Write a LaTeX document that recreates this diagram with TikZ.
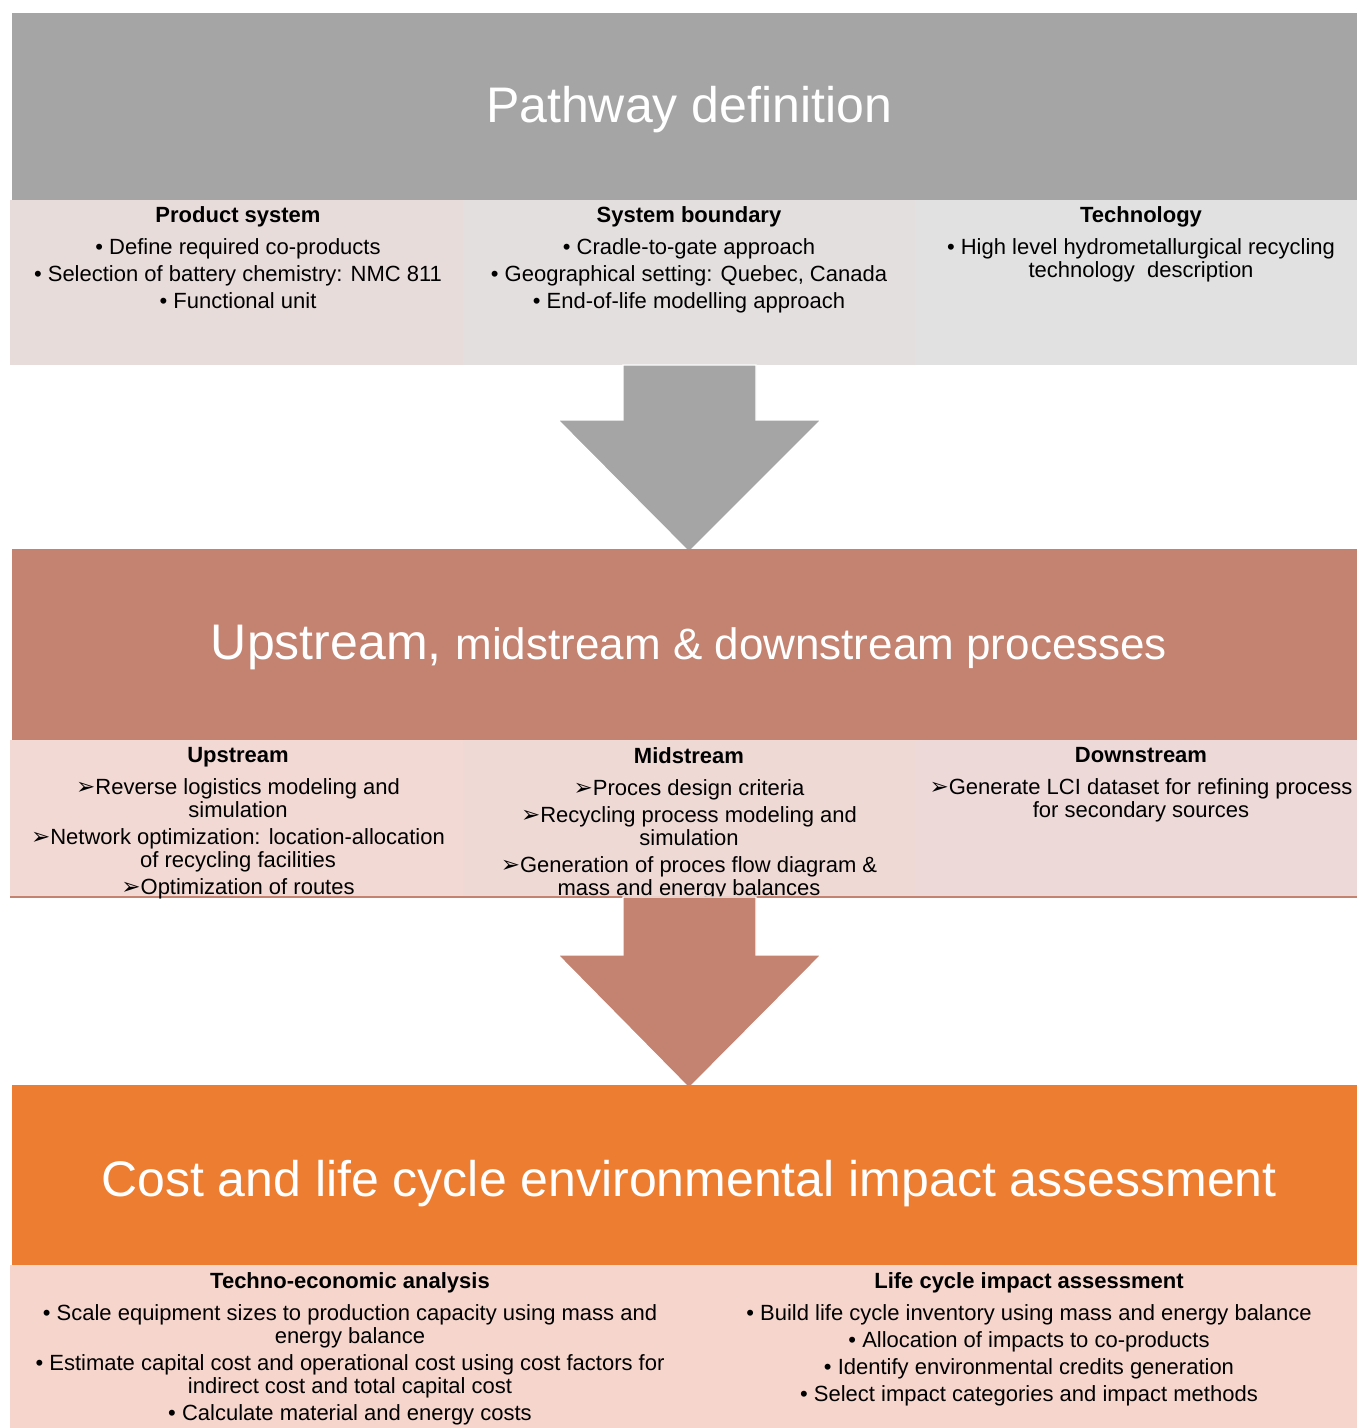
\documentclass[tikz,border=0pt]{standalone}
\usepackage{fontspec}
\setmainfont{Liberation Sans}
\newfontfamily\symf{DejaVu Sans}
\definecolor{pwgray}{HTML}{A5A5A5}
\definecolor{pwcellA}{HTML}{E8DCDB}
\definecolor{pwcellB}{HTML}{E4DFDF}
\definecolor{pwcellC}{HTML}{E1E1E1}
\definecolor{umsred}{HTML}{C48270}
\definecolor{umscellA}{HTML}{F2D9D4}
\definecolor{umscellB}{HTML}{EFD9D5}
\definecolor{umscellC}{HTML}{ECD9D8}
\definecolor{costorange}{HTML}{ED7D31}
\definecolor{costcell}{HTML}{F6D6CC}
\newcommand{\bul}{•\ }
\newcommand{\arw}{{\symf\fontsize{11.5}{8}\selectfont ➢}}
\begin{document}
\begin{tikzpicture}[x=0.5pt,y=-0.5pt,
  cell/.style={anchor=north,align=center,inner sep=0,font=\fontsize{11}{11.5}\selectfont},
  title/.style={text=white,inner sep=0,font=\fontsize{25}{28}\selectfont},
  bigarrow/.style={draw=white,line width=0.6pt}]
\useasboundingbox (0,0) rectangle (1357,1428);

% pathway definition
\fill[pwgray] (12,13) rectangle (1357,200);
\fill[pwcellA] (10,200) rectangle (463,365);
\fill[pwcellB] (463,200) rectangle (915,365);
\fill[pwcellC] (915,200) rectangle (1357,365);
\node[title] (pw) at (689,110) {Pathway definition};
\node[cell] (prod) at (238,206) {\textbf{Product system}\\[4.5pt]
  \bul Define required co-products\\[2pt]
  \bul Selection of battery chemistry: NMC 811\\[2pt]
  \bul Functional unit};
\node[cell] (bound) at (689,206) {\textbf{System boundary}\\[4.5pt]
  \bul Cradle-to-gate approach\\[2pt]
  \bul Geographical setting: Quebec, Canada\\[2pt]
  \bul End-of-life modelling approach};
\node[cell] (tech) at (1141,206) {\textbf{Technology}\\[4.5pt]
  \bul High level hydrometallurgical recycling\\
  technology\ \ description};

\fill[pwgray,bigarrow] (623,365) -- (756,365) -- (756,420) -- (821,420) -- (689,552) -- (558,420) -- (623,420) -- cycle;

% upstream, midstream, downstream
\fill[umsred] (12,549) rectangle (1357,740);
\fill[umscellA] (10,740) rectangle (463,897);
\fill[umscellB] (463,740) rectangle (915,897);
\fill[umscellC] (915,740) rectangle (1357,897);
\draw[umsred,line width=0.6pt] (10,897) -- (1357,897);
\node[title] (ums) at (689,647) {Upstream, {\fontsize{22}{28}\selectfont midstream \& downstream processes}};
\node[cell] (up) at (238,747) {\textbf{Upstream}\\[4.5pt]
  \arw Reverse logistics modeling and\\
  simulation\\[2pt]
  \arw Network optimization: location-allocation\\
  of recycling facilities\\[2pt]
  \arw Optimization of routes};
\node[cell] (mid) at (689,747) {\textbf{Midstream}\\[4.5pt]
  \arw Proces design criteria\\[2pt]
  \arw Recycling process modeling and\\
  simulation\\[2pt]
  \arw Generation of proces flow diagram \&\\
  mass and energy balances};
\node[cell] (down) at (1141,747) {\textbf{Downstream}\\[4.5pt]
  \arw Generate LCI dataset for refining process\\
  for secondary sources};

\fill[umsred,bigarrow] (623,897) -- (756,897) -- (756,955) -- (821,955) -- (689,1088) -- (558,955) -- (623,955) -- cycle;

% cost and LCA
\fill[costorange] (12,1085) rectangle (1357,1265);
\fill[costcell] (10,1265) rectangle (1357,1428);
\node[title] (cost) at (689,1184) {Cost and life cycle environmental impact assessment};
\node[cell] (tea) at (350,1272) {\textbf{Techno-economic analysis}\\[4.5pt]
  \bul Scale equipment sizes to production capacity using mass and\\
  energy balance\\[2pt]
  \bul Estimate capital cost and operational cost using cost factors for\\
  indirect cost and total capital cost\\[2pt]
  \bul Calculate material and energy costs};
\node[cell] (lcia) at (1029,1272) {\textbf{Life cycle impact assessment}\\[4.5pt]
  \bul Build life cycle inventory using mass and energy balance\\[2pt]
  \bul Allocation of impacts to co-products\\[2pt]
  \bul Identify environmental credits generation\\[2pt]
  \bul Select impact categories and impact methods};
\end{tikzpicture}
\end{document}
